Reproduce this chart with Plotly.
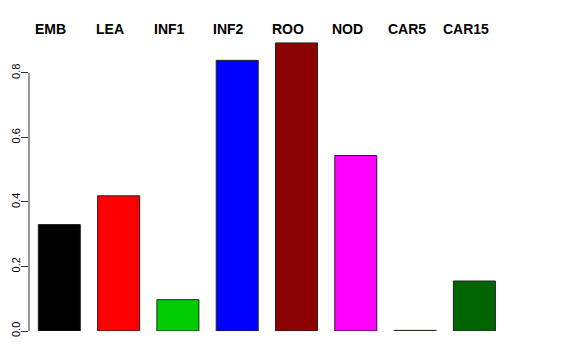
import plotly.graph_objects as go

categories = ["EMB", "LEA", "INF1", "INF2", "ROO", "NOD", "CAR5", "CAR15"]
values = [0.330, 0.419, 0.097, 0.839, 0.893, 0.544, 0.002, 0.155]
colors = ["#000000", "#FF0000", "#00CD00", "#0000FF", "#8B0000", "#FF00FF", "#FFFF00", "#006400"]
y_ticks = [0.0, 0.2, 0.4, 0.6, 0.8]
y_tick_labels = ["0.0", "0.2", "0.4", "0.6", "0.8"]

OFF = 8               # default page body margin
W, H = 576 - 2 * OFF, 360 - 2 * OFF
unit_px = 322.5       # pixels per 1.0 on y
x_unit = 59.3         # pixels per bar slot
left_px, right_px = 29 - OFF, 513 - OFF
bottom_px = 331 - OFF
ymax = 0.93
plot_h = ymax * unit_px
top_margin = bottom_px - plot_h

xs = list(range(len(categories)))

fig = go.Figure()
fig.add_trace(go.Bar(
    x=xs, y=values,
    marker=dict(color=colors, line=dict(color="#222222", width=1)),
    width=42 / x_unit,
    hoverinfo="skip",
))

xr0 = (29) / x_unit - 1
xr1 = (513) / x_unit - 1

annotations = []
for i, c in enumerate(categories):
    annotations.append(dict(
        x=i - 0.143, xref="x",
        y=(bottom_px - (29 - OFF)) / plot_h, yref="paper",
        text="<b>" + c + "</b>", showarrow=False,
        font=dict(family="Liberation Sans, Arial, sans-serif", size=14, color="black"),
        xanchor="center", yanchor="middle",
    ))

fig.update_layout(
    width=W, height=H,
    margin=dict(l=left_px, r=W - right_px, t=top_margin, b=H - bottom_px, pad=0, autoexpand=False),
    paper_bgcolor="white", plot_bgcolor="white",
    showlegend=False,
    annotations=annotations,
    xaxis=dict(range=[xr0, xr1], showticklabels=False, ticks="", showgrid=False,
               zeroline=False, showline=False, automargin=False),
    yaxis=dict(range=[0, ymax], tickvals=y_ticks, ticktext=y_tick_labels,
               ticks="outside", ticklen=7, tickwidth=1, tickcolor="#333333",
               tickangle=-90, showgrid=False, zeroline=False, showline=False,
               automargin=False, ticklabelstandoff=-3,
               tickfont=dict(family="Liberation Sans, Arial, sans-serif", size=11, color="black")),
    shapes=[dict(type="line", xref="paper", yref="y", x0=0, x1=0, y0=0, y1=0.8,
                 line=dict(color="#333333", width=1))],
    font=dict(family="Liberation Sans, Arial, sans-serif"),
)

fig.write_html("out.html")
